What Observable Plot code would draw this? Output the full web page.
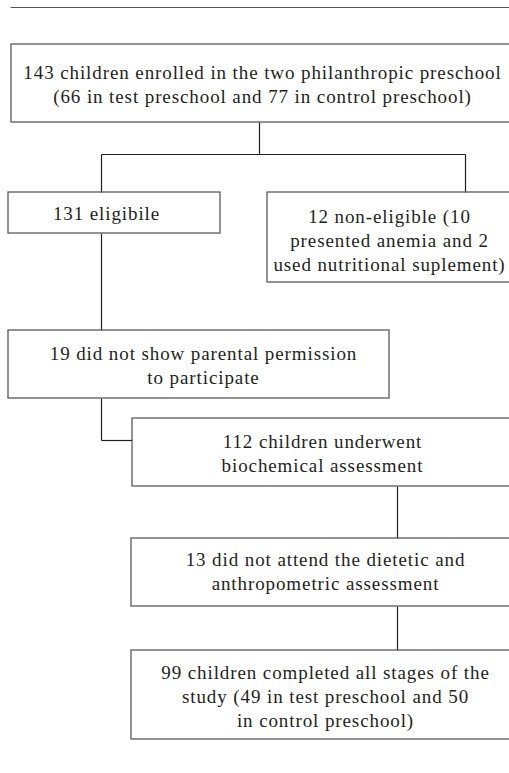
<!DOCTYPE html>
<html>
<head>
<meta charset="utf-8">
<script src="https://cdn.jsdelivr.net/npm/d3@7"></script>
<script src="https://cdn.jsdelivr.net/npm/@observablehq/plot@0.6"></script>
<style>
  html, body { margin: 0; padding: 0; background: #fff; overflow: hidden; }
  #chart svg { overflow: hidden; }
  #chart svg text { letter-spacing: 0.9px; }
</style>
</head>
<body>
<div id="chart"></div>
<script>
// Box labels (flowchart content)
const labels = [
  "143 children enrolled in the two philanthropic preschool\n(66 in test preschool and 77 in control preschool)",
  "131 eligibile",
  "12 non-eligible (10\npresented anemia and 2\nused nutritional suplement)",
  "19 did not show parental permission\nto participate",
  "112 children underwent\nbiochemical assessment",
  "13 did not attend the dietetic and\nanthropometric assessment",
  "99 children completed all stages of the\nstudy (49 in test preschool and 50\nin control preschool)"
];

// Box layout (page pixels)
const boxX1 = [11, 8, 267, 8, 132, 131, 131];
const boxX2 = [525, 220, 525, 389, 525, 525, 525];
const boxY1 = [44, 192, 192, 330, 418, 538, 650];
const boxY2 = [122, 233, 282, 398, 486, 606, 739];
const textX = [262, 106, 389, 203, 322, 325, 325];
const textY = [83, 212, 239, 364, 452, 570, 695];

// Connector segments
const segX1 = [259, 101, 101, 465, 101, 101, 101, 397, 397];
const segY1 = [122, 154, 154, 154, 233, 398, 440, 486, 606];
const segX2 = [259, 465, 101, 465, 101, 101, 132, 397, 397];
const segY2 = [154, 154, 192, 192, 330, 440, 440, 538, 650];

const boxes = labels.map((label, i) => ({
  label, x1: boxX1[i], x2: boxX2[i], y1: boxY1[i], y2: boxY2[i],
  tx: textX[i], ty: textY[i]
}));
const segs = segX1.map((_, i) => ({x1: segX1[i], y1: segY1[i], x2: segX2[i], y2: segY2[i]}));
const rule = [{x1: 10, x2: 509, y: 7}];

const W = 509, H = 773;
const chart = Plot.plot({
  width: W, height: H,
  margin: 0,
  x: {domain: [0, W], range: [0, W], axis: null},
  y: {domain: [0, H], range: [0, H], axis: null},
  style: {background: "#fff", fontFamily: "Liberation Serif"},
  marks: [
    Plot.link(rule, {x1: "x1", x2: "x2", y1: "y", y2: "y", stroke: "#555", strokeWidth: 1.2}),
    Plot.link(segs, {x1: "x1", y1: "y1", x2: "x2", y2: "y2", stroke: "#231f20", strokeWidth: 1.2}),
    Plot.rect(boxes, {x1: "x1", x2: "x2", y1: "y1", y2: "y2", fill: "none", stroke: "#5a5a5a", strokeWidth: 1.3}),
    Plot.text(boxes, {x: "tx", y: "ty", text: "label", fontFamily: "Liberation Serif", fontSize: 19, lineHeight: 1.25, fill: "#231f20", textAnchor: "middle", lineAnchor: "middle"})
  ]
});
document.getElementById("chart").appendChild(chart);
</script>
</body>
</html>
